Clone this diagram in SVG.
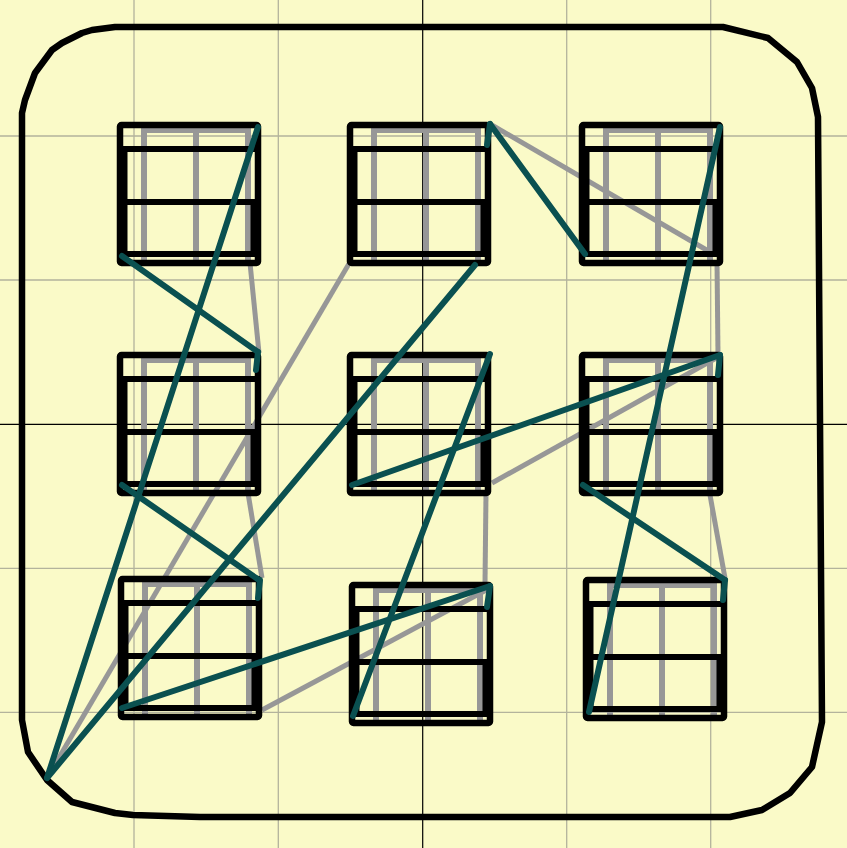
<svg xmlns="http://www.w3.org/2000/svg" width="847" height="848" viewBox="0 0 847 848">
<style>
.grid{stroke:#b3b39c;stroke-width:1.3;fill:none}
.axis{stroke:#000;stroke-width:1.2;fill:none}
.border{stroke:#000;stroke-width:6.5;fill:none;stroke-linejoin:round}
.frame{stroke:#979797;stroke-width:6;fill:none}
.box{stroke:#000;stroke-width:6.5;fill:none;stroke-linejoin:round;stroke-linecap:round}
.bar{stroke:#000;stroke-width:6;fill:none}
.gl{stroke:#979797;stroke-width:5;fill:none;stroke-linecap:butt}
.tl{stroke:#0a5050;stroke-width:6;fill:none;stroke-linecap:round}
</style>
<defs>
<g id="cell">
<path class="frame" d="M24,5V138M76,5V138M128,5V138M21,5H131"/>
<rect class="box" x="0" y="0" width="138" height="138" rx="1.5"/>
<path class="bar" d="M0,24H138M0,77H138M0,129H138"/>
<path class="bar" stroke-width="4" d="M4.5,24V129M133.5,77V129"/>
</g>
</defs>
<rect width="847" height="848" fill="#fafac8"/>
<g id="grid">
<path class="grid" d="M134,0V848M278.3,0V848M566.7,0V848M710.7,0V848M0,136H847M0,280H847M0,568.3H847M0,712.3H847"/>
<path class="axis" d="M422.7,0V848M0,424.3H847"/>
</g>
<path id="frame-border" class="border" d="M22,113L25,100L35,73L52,50L62,43L82,33L92,30L115,27L723,27L768,38L797,62L812,88L818,117L822,722L812,767L790,793L762,810L730,817L200,817L133,815L115,813L72,802L47,780L28,752L22,720Z"/>
<g id="links-under">
<path class="gl" d="M250,263L259,353"/>
<path class="gl" d="M350,262L47,778"/>
<path class="gl" d="M248,493L262,578"/>
<path class="gl" d="M262,710L490,588"/>
<path class="gl" d="M490,124L710,252"/>
<path class="gl" d="M717,262L718,355"/>
<path class="gl" d="M492,483L718,357"/>
<path class="gl" d="M486,493L485,584"/>
<path class="gl" d="M710,495L725,578"/>
</g>
<g id="node-tl"><use href="#cell" x="120" y="125"/></g>
<g id="node-tm"><use href="#cell" x="350" y="125"/></g>
<g id="node-tr"><use href="#cell" x="582" y="125"/></g>
<g id="node-ml"><use href="#cell" x="120" y="355"/></g>
<g id="node-mm"><use href="#cell" x="350" y="355"/></g>
<g id="node-mr"><use href="#cell" x="582" y="355"/></g>
<g id="node-bl"><use href="#cell" x="121" y="579"/></g>
<g id="node-bm"><use href="#cell" x="352" y="585"/></g>
<g id="node-br"><use href="#cell" x="586" y="580"/></g>
<g id="links">
<path class="tl" d="M122,256L258,352"/>
<path class="tl" d="M258,127L47,778"/>
<path class="tl" d="M122,485L259,580"/>
<path class="tl" d="M475,265L47,778"/>
<path class="tl" d="M122,708L490,586"/>
<path class="tl" d="M490,124L585,254"/>
<path class="tl" d="M720,127L589,712"/>
<path class="tl" d="M352,485L720,355"/>
<path class="tl" d="M490,354L353,716"/>
<path class="tl" d="M583,485L725,580"/>
<path class="tl" d="M490,124L487,145M258,352L256,370M260,580L258,598M720,355L718,375M725,580L723,600M490,586L487,607"/>
</g>
</svg>
